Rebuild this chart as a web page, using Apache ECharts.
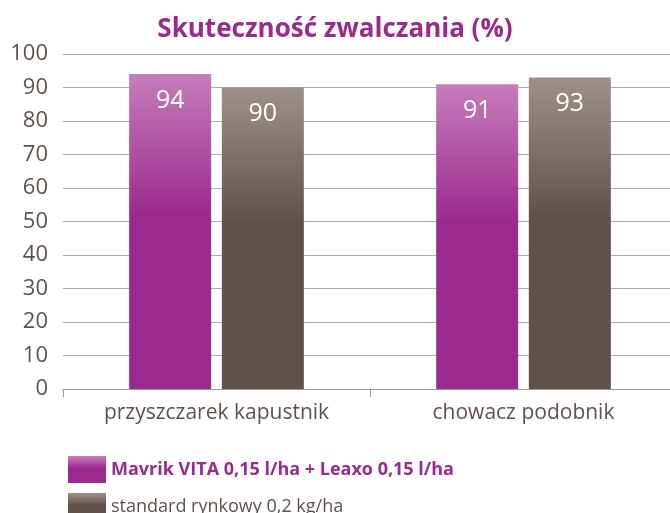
<!DOCTYPE html>
<html>
<head>
    <meta charset="utf-8">
    <script src="https://cdn.jsdelivr.net/npm/echarts@6/dist/echarts.min.js"></script>
    <style>body{margin:0;}</style>
</head>
<body>
    <div id="main" style="width:670px; height:513px;"></div>
	<script type="text/javascript">
		var categories = ['przyszczarek kapustnik', 'chowacz podobnik'];
		var mavrikValues = [94, 91];
		var standardValues = [90, 93];
		var seriesNames = ['Mavrik VITA 0,15 l/ha + Leaxo 0,15 l/ha', 'standard rynkowy 0,2 kg/ha'];

		var font = 'Open Sans';
		var purple = new echarts.graphic.LinearGradient(0, 0, 0, 1, [
			{offset: 0, color: '#c67dba'},
			{offset: 0.45, color: '#9b2a8e'},
			{offset: 1, color: '#9b2a8e'}
		]);
		var gray = new echarts.graphic.LinearGradient(0, 0, 0, 1, [
			{offset: 0, color: '#9e918b'},
			{offset: 0.45, color: '#5f524c'},
			{offset: 1, color: '#5f524c'}
		]);
		var labelOpt = {
			show: true, position: 'insideTop', distance: 14,
			color: '#fff', fontSize: 25, fontFamily: font
		};

        var myChart = echarts.init(document.getElementById('main'));
      	var option = {
			animation: false,
			textStyle: {fontFamily: font},
			title: {
				text: 'Skuteczność zwalczania (%)',
				left: 'center', top: 12,
				textStyle: {color: '#9b2a8e', fontSize: 26, fontWeight: 'bold', fontFamily: font}
			},
			legend: [{
				left: 63, top: 451,
				itemWidth: 38, itemHeight: 27,
				icon: 'rect',
				data: [{name: seriesNames[0]}],
				textStyle: {color: '#9b2a8e', fontWeight: 'bold', fontSize: 18, fontFamily: font}
			}, {
				left: 63, top: 488,
				itemWidth: 38, itemHeight: 27,
				icon: 'rect',
				data: [{name: seriesNames[1]}],
				textStyle: {color: '#5f524c', fontSize: 18, fontFamily: font}
			}],
			grid: {left: 63, top: 54, width: 614, bottom: 124, outerBoundsMode: 'none'},
			xAxis: {
				type: 'category',
				data: categories,
				axisLine: {lineStyle: {color: '#999'}},
				axisTick: {show: true, length: 8, lineStyle: {color: '#999'}},
				axisLabel: {color: '#5f524c', fontSize: 21, margin: 14}
			},
			yAxis: {
				type: 'value', min: 0, max: 100, interval: 10,
				axisLine: {show: false},
				axisTick: {show: false},
				splitLine: {lineStyle: {color: '#aaa'}},
				axisLabel: {color: '#5f524c', fontSize: 22, margin: 15}
			},
			series: [{
				name: seriesNames[0],
				type: 'bar', data: mavrikValues,
				barWidth: 82, barGap: '13%',
				itemStyle: {color: purple},
				label: labelOpt
			}, {
				name: seriesNames[1],
				type: 'bar', data: standardValues,
				barWidth: 82, barGap: '13%',
				itemStyle: {color: gray},
				label: labelOpt
			}]
		};
        myChart.setOption(option);
    </script>
</body>
</html>
